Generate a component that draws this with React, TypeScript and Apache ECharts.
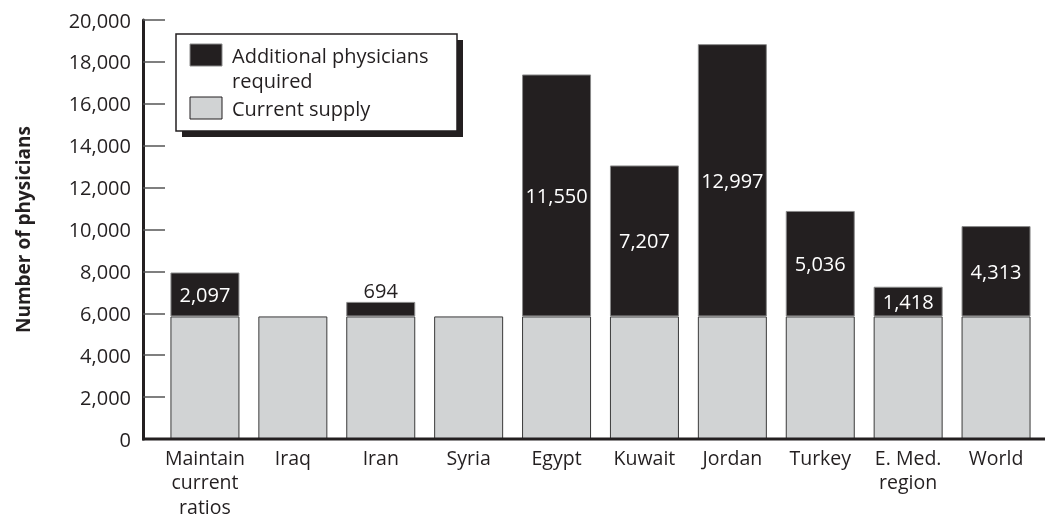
import React, { useEffect, useRef } from "react";
import * as echarts from "echarts";

const categories = [
  "Maintain\ncurrent\nratios",
  "Iraq",
  "Iran",
  "Syria",
  "Egypt",
  "Kuwait",
  "Jordan",
  "Turkey",
  "E. Med.\nregion",
  "World",
];
const currentSupply = [5850, 5850, 5850, 5850, 5850, 5850, 5850, 5850, 5850, 5850];
const additionalRequired = [2097, 0, 694, 0, 11550, 7207, 12997, 5036, 1418, 4313];

const seriesNames = ["Current supply", "Additional physicians required"];
const legendTexts = ["Additional physicians\nrequired", "Current supply"];
const yAxisTitle = "Number of physicians";

const INK = "#231f20";
const GREY = "#d1d3d4";
const FONT = "'Open Sans', 'Noto Sans', sans-serif";

export default function App() {
  const ref = useRef<HTMLDivElement>(null);

  useEffect(() => {
    if (!ref.current) return;
    const chart = echarts.init(ref.current, null, { renderer: "svg" });

    const fmt = (v: number) => v.toLocaleString("en-US");

    const addData = additionalRequired.map((v) => {
      if (!v) return "-";
      const small = v < 1000;
      return {
        value: v,
        label: small
          ? { position: "top", color: INK, distance: 1 }
          : { position: "inside", color: "#ffffff" },
      };
    });

    chart.setOption({
      animation: false,
      textStyle: { fontFamily: FONT },
      grid: { left: 161, right: 5, top: 20, bottom: 80, containLabel: false, outerBoundsMode: "none" },
      xAxis: {
        type: "category",
        data: categories,
        axisLine: { show: false },
        axisTick: { show: false },
        axisLabel: {
          color: INK,
          fontSize: 19.5,
          lineHeight: 24.5,
          margin: 6,
          fontFamily: FONT,
          interval: 0,
        },
      },
      yAxis: {
        type: "value",
        min: 0,
        max: 20000,
        interval: 2000,
        offset: 18,
        name: yAxisTitle,
        nameLocation: "middle",
        nameGap: 111,
        nameTextStyle: { color: INK, fontSize: 19, fontWeight: "bold", fontFamily: FONT },
        axisLine: { show: true, lineStyle: { color: INK, width: 3 } },
        axisTick: { show: true, inside: true, length: 22, lineStyle: { color: "#555", width: 1.5 } },
        axisLabel: { color: INK, fontSize: 20, margin: 12, fontFamily: FONT, formatter: (v: number) => fmt(v) },
        splitLine: { show: false },
      },
      series: [
        {
          name: seriesNames[0],
          type: "bar",
          stack: "total",
          barWidth: 69,
          data: currentSupply,
          itemStyle: { color: GREY, borderColor: "#3a3a3a", borderWidth: 1 },
        },
        {
          name: seriesNames[1],
          type: "bar",
          stack: "total",
          barWidth: 69,
          data: addData,
          itemStyle: { color: INK, borderColor: "#8a8a8a", borderWidth: 1 },
          label: {
            show: true,
            fontSize: 20,
            fontFamily: FONT,
            formatter: (p: any) => fmt(p.value),
          },
        },
      ],
      graphic: [
        {
          type: "line",
          z: 100,
          shape: { x1: 142, y1: 439, x2: 1045, y2: 439 },
          style: { stroke: INK, lineWidth: 3 },
        },
        {
          type: "group",
          z: 120,
          children: [
            { type: "rect", shape: { x: 182, y: 40, width: 281, height: 97 }, style: { fill: INK } },
            {
              type: "rect",
              shape: { x: 176, y: 34, width: 281, height: 97 },
              style: { fill: "#ffffff", stroke: INK, lineWidth: 1.5 },
            },
            { type: "rect", shape: { x: 190, y: 44, width: 32, height: 22 }, style: { fill: INK, stroke: "#8a8a8a", lineWidth: 1 } },
            { type: "rect", shape: { x: 190, y: 97, width: 32, height: 22 }, style: { fill: GREY, stroke: INK, lineWidth: 1 } },
            {
              type: "text",
              x: 232,
              y: 67.75,
              style: {
                text: legendTexts[0],
                fill: INK,
                fontSize: 20,
                fontFamily: FONT,
                lineHeight: 25.5,
                verticalAlign: "middle",
              },
            },
            {
              type: "text",
              x: 232,
              y: 108,
              style: { text: legendTexts[1], fill: INK, fontSize: 20, fontFamily: FONT, verticalAlign: "middle" },
            },
          ],
        },
      ],
    });

    return () => chart.dispose();
  }, []);

  return <div ref={ref} style={{ position: "fixed", left: 0, top: 0, width: 1045, height: 519 }} />;
}
